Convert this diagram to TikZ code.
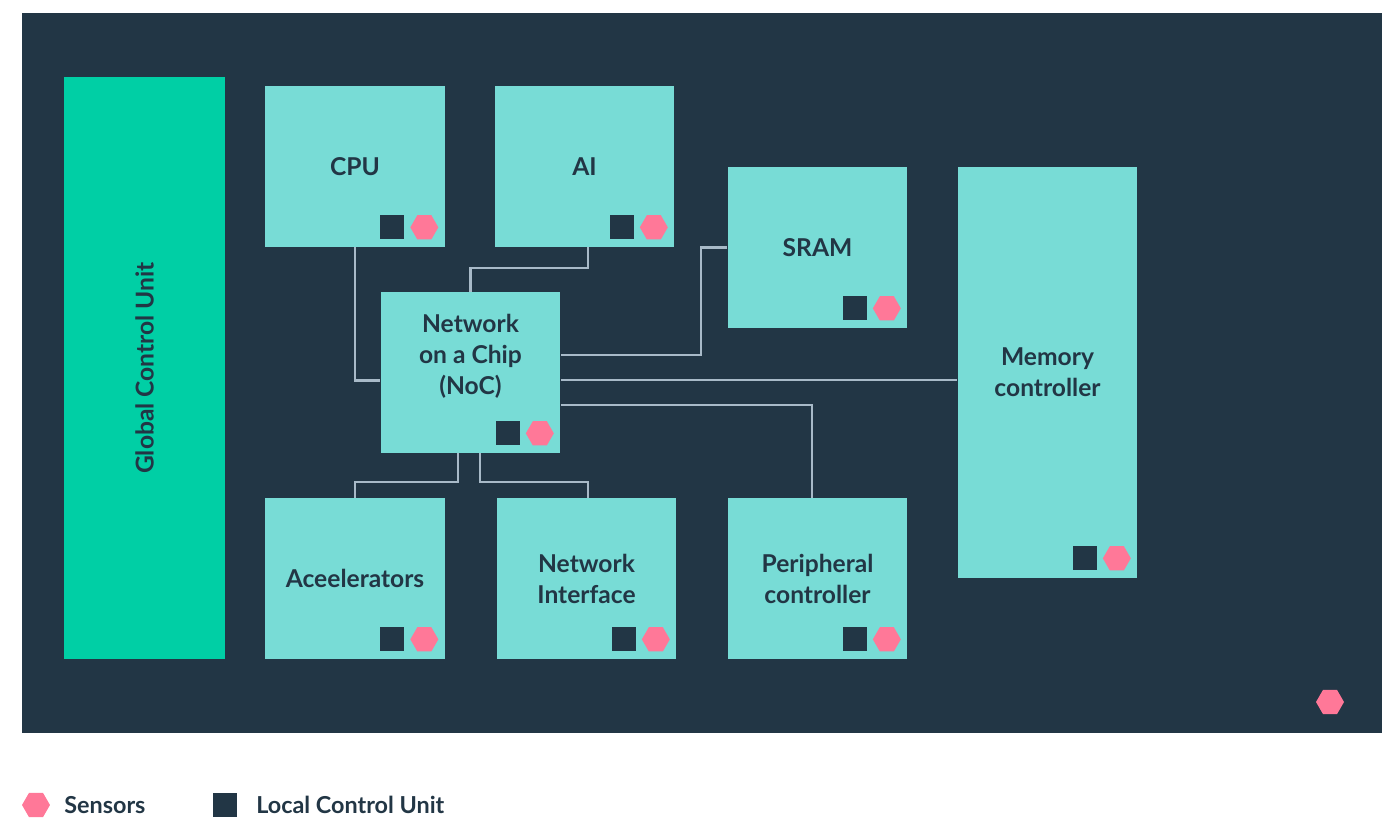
\documentclass[tikz,border=0pt]{standalone}
\usepackage{fontspec}
\setmainfont{Lato}
\usetikzlibrary{positioning,calc,shapes.geometric}
\definecolor{mydark}{RGB}{34,54,69}
\definecolor{mygreen}{RGB}{0,207,165}
\definecolor{myteal}{RGB}{120,220,214}
\definecolor{mypink}{RGB}{255,120,152}
\definecolor{mywire}{RGB}{168,186,200}

\begin{document}
\begin{tikzpicture}[x=0.02cm,y=0.02cm,
  box/.style={fill=myteal,inner sep=0pt,minimum width=3.6cm,minimum height=3.22cm,
    align=center,text=mydark,font=\fontsize{14}{17.6}\selectfont\bfseries},
  gcu/.style={fill=mygreen,inner sep=0pt,minimum width=3.22cm,minimum height=11.64cm},
  lcu/.style={fill=mydark,inner sep=0pt,minimum size=0.48cm},
  sens/.style={fill=mypink,regular polygon,regular polygon sides=6,inner sep=0pt,minimum size=0.56cm},
  wire/.style={draw=mywire,line width=1.3pt},
  txt/.style={text=mydark,font=\fontsize{14}{17.6}\selectfont\bfseries},
  legtxt/.style={text=mydark,inner sep=0pt,anchor=west,font=\fontsize{13.3}{16}\selectfont\bfseries}]

  \useasboundingbox (0,0) rectangle (1397,-818);
  \fill[mydark] (22,-13) rectangle (1382,-733);

  % global control unit
  \node[gcu] (gcu) at (144.5,-368) {};
  \node[txt,rotate=90] (gcu-txt) at (gcu) {Global Control Unit};

  % blocks
  \node[box] (cpu) at (355,-166.5) {CPU};
  \node[box] (ai) at (584.5,-166.5) {AI};
  \node[box] (sram) at (817.5,-247.5) {SRAM};
  \node[box,minimum height=8.22cm] (mem) at (1047.5,-372.5) {Memory\\controller};
  \node[box] (noc) at (470.5,-372.5) {};
  \node[txt,align=center] (noc-txt) at (470.5,-356) {Network\\on a Chip\\(NoC)};
  \node[box] (acc) at (355,-578.5) {Aceelerators};
  \node[box] (nif) at (586.5,-578.5) {Network\\Interface};
  \node[box] (per) at (817.5,-578.5) {Peripheral\\controller};

  % local control units and sensors
  \foreach \b in {cpu,ai,sram,mem,noc,acc,nif,per} {
    \node[lcu] (\b-lcu) at ([shift={(-53,20)}]\b.south east) {};
    \node[sens] (\b-sen) at ([shift={(-21,20)}]\b.south east) {};
  }
  \node[sens] (chip-sen) at (1330,-702) {};

  % wires
  \draw[wire] (cpu.south) |- ($(noc.west)+(0,-8)$);
  \draw[wire] ($(ai.south)+(3.5,0)$) -- ++(0,-21) -| (noc.north);
  \draw[wire] (sram.west) -- ++(-26,0) |- ($(noc.east)+(0,17.5)$);
  \draw[wire] ($(noc.east)+(0,-7.5)$) -- ($(mem.west)+(0,-7.5)$);
  \draw[wire] ($(noc.east)+(0,-32.5)$) -| ($(per.north)+(-5.5,0)$);
  \draw[wire] ($(noc.south)+(-12.5,0)$) -- ++(0,-29) -| (acc.north);
  \draw[wire] ($(noc.south)+(9.5,0)$) -- ++(0,-29) -| ($(nif.north)+(1.5,0)$);

  % legend
  \node[sens] (leg-sen) at (36,-805) {};
  \node[legtxt] (leg-sen-txt) at (64,-805) {Sensors};
  \node[lcu] (leg-lcu) at (225,-805) {};
  \node[legtxt] (leg-lcu-txt) at (256,-805) {Local Control Unit};
\end{tikzpicture}
\end{document}
